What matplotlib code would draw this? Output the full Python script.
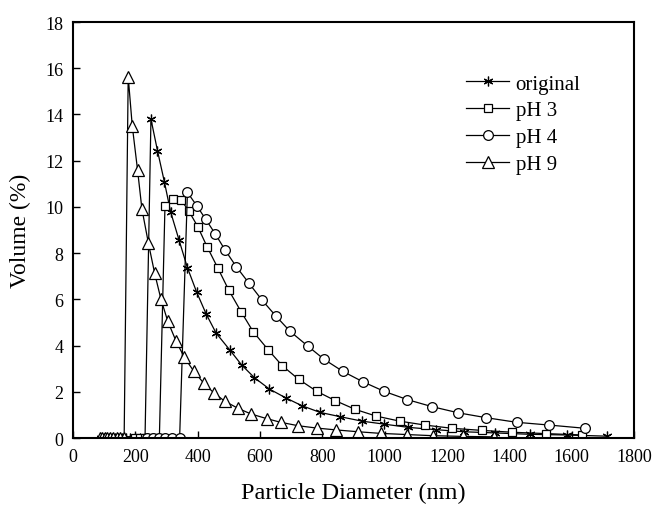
import matplotlib
matplotlib.use("Agg")
import matplotlib.pyplot as plt

plt.rcParams['font.family'] = ['Liberation Serif', 'DejaVu Serif']

# ---- data ----
orig_x = [91, 99, 107, 115, 125, 135, 145, 157, 170, 183, 198, 214, 231,
          250, 271, 293, 313, 340, 367, 397, 427, 459, 503, 541, 582, 630,
          682, 734, 792, 858, 927, 998, 1076, 1165, 1254, 1354, 1466, 1584, 1712]
orig_y = [0, 0, 0, 0, 0, 0, 0, 0, 0, 0, 0, 0, 0,
          13.80, 12.43, 11.09, 9.79, 8.57, 7.37, 6.30, 5.37, 4.54, 3.81, 3.16, 2.61, 2.12,
          1.74, 1.40, 1.11, 0.92, 0.73, 0.60, 0.46, 0.36, 0.27, 0.22, 0.16, 0.13, 0.08]

ph3_x = [199, 214, 230, 247, 262, 277,
         295, 322, 347, 372, 400, 430, 464, 500, 539, 578, 626, 671,
         724, 782, 841, 905, 972, 1048, 1129, 1216, 1311, 1409, 1518, 1634]
ph3_y = [0, 0, 0, 0, 0, 0,
         10.05, 10.34, 10.30, 9.81, 9.15, 8.28, 7.37, 6.39, 5.47, 4.60, 3.82, 3.13,
         2.54, 2.02, 1.62, 1.24, 0.95, 0.73, 0.56, 0.42, 0.33, 0.25, 0.19, 0.13]

ph4_x = [236, 255, 275, 296, 318, 342,
         367, 397, 426, 456, 488, 524, 565, 605, 650, 696, 753, 806,
         866, 929, 998, 1073, 1151, 1236, 1325, 1423, 1528, 1643]
ph4_y = [0, 0, 0, 0, 0, 0,
         10.63, 10.05, 9.46, 8.84, 8.13, 7.41, 6.69, 5.99, 5.29, 4.62, 3.98, 3.40,
         2.88, 2.44, 2.02, 1.66, 1.36, 1.09, 0.88, 0.68, 0.56, 0.42]

ph9_x = [87, 94, 102, 110, 119, 129, 140, 151, 164,
         177, 190, 207, 221, 242, 262, 282, 304, 330, 357, 388, 419, 452, 487,
         530, 571, 621, 666, 723, 782, 844, 915, 987, 1070, 1155, 1250, 1350]
ph9_y = [0, 0, 0, 0, 0, 0, 0, 0, 0,
         15.63, 13.51, 11.60, 9.91, 8.42, 7.12, 6.01, 5.05, 4.21, 3.49, 2.88, 2.38, 1.95, 1.59,
         1.28, 1.04, 0.84, 0.68, 0.53, 0.43, 0.35, 0.27, 0.20, 0.15, 0.10, 0.07, 0.05]

labels = ['original', 'pH 3', 'pH 4', 'pH 9']
x_ticks = [0, 200, 400, 600, 800, 1000, 1200, 1400, 1600, 1800]
y_ticks = [0, 2, 4, 6, 8, 10, 12, 14, 16, 18]

fig = plt.figure(figsize=(6.55, 5.06), dpi=100)
ax = fig.add_axes([0.1115, 0.1324, 0.8565, 0.8221])

lw = 0.9
mew = 0.9
ax.plot(orig_x, orig_y, color='black', lw=lw, marker=(6, 2, 0), ms=7, mew=mew,
        label=labels[0])
ax.plot(ph3_x, ph3_y, color='black', lw=lw, marker='s', ms=6, mew=mew,
        mfc='white', mec='black', label=labels[1])
ax.plot(ph4_x, ph4_y, color='black', lw=lw, marker='o', ms=7, mew=mew,
        mfc='white', mec='black', label=labels[2])
ax.plot(ph9_x, ph9_y, color='black', lw=lw, marker='^', ms=8, mew=mew,
        mfc='white', mec='black', label=labels[3])

ax.set_xlim(0, 1800)
ax.set_ylim(0, 18)
ax.set_xticks(x_ticks)
ax.set_yticks(y_ticks)
ax.set_xticklabels([str(v) for v in x_ticks])
ax.set_yticklabels([str(v) for v in y_ticks])
ax.tick_params(direction='in', length=5, width=1, labelsize=13,
               top=False, right=False, pad=7)
for s in ax.spines.values():
    s.set_linewidth(1.5)

ax.set_xlabel('Particle Diameter (nm)', fontsize=17.5, labelpad=12)
ax.set_ylabel('Volume (%)', fontsize=17, labelpad=10)

leg = ax.legend(loc='upper left', bbox_to_anchor=(0.70, 0.875), frameon=False,
                fontsize=15, handlelength=2.1, handletextpad=0.3,
                labelspacing=0.35, borderpad=0, borderaxespad=0)

fig.savefig('out.png', dpi=100)
